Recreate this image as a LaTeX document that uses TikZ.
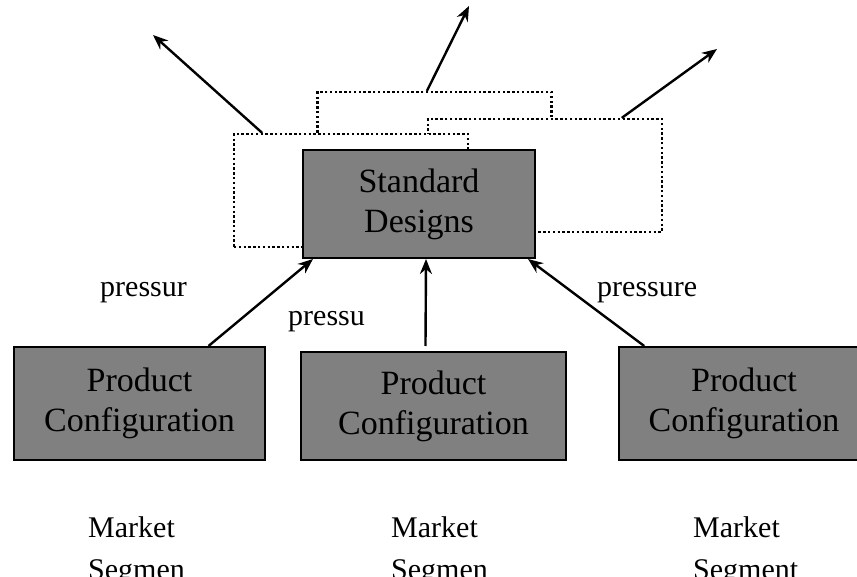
\documentclass[tikz,border=0pt]{standalone}
\usepackage{fontspec}
\setmainfont{Liberation Serif}
\usetikzlibrary{calc, arrows.meta}
\definecolor{boxgray}{RGB}{128,128,128}

\begin{document}
\begin{tikzpicture}[x=1pt, y=-1pt,
        blockbox/.style={draw, line width=2pt, fill=boxgray, align=center, inner sep=0pt,
            font=\fontsize{34}{40}\selectfont},
        ghostbox/.style={draw, fill=white, line width=2.2pt, dash pattern=on 2.4pt off 2.4pt,
            minimum width=234pt, minimum height=113pt, inner sep=0pt},
        push/.style={line width=2.4pt, -{Stealth[length=15pt, width=12pt]}},
        lbl/.style={inner sep=0pt, anchor=base west, font=\fontsize{30}{42}\selectfont}]
                \useasboundingbox (0,0) rectangle (857,577);
                \clip (0,0) rectangle (857,577);
                \node[ghostbox] (dm) at (434.5,148.5) {};
                \node[ghostbox] (dr) at (545,175.5) {};
                \node[ghostbox] (dl) at (351,190.5) {};
                \node[blockbox, minimum width=232pt, minimum height=108pt] (sd) at (419,204) {Standard\\Designs};
                \node[blockbox, minimum width=251pt, minimum height=113pt] (pc1) at (139.5,403.5) {Product\\Configuration};
                \node[blockbox, minimum width=265pt, minimum height=108pt] (pc2) at (433.5,406) {Product\\Configuration};
                \node[blockbox, minimum width=250pt, minimum height=113pt] (pc3) at (744,403.5) {Product\\Configuration};
                \coordinate (tl) at (153,35);
                \coordinate (tm) at (469,6);
                \coordinate (tr) at (717,49);
                \draw[push] ($(dl.north west)!0.124!(dl.north east)$) -- (tl);
                \draw[push] ($(dm.north west)!0.468!(dm.north east)$) -- (tm);
                \draw[push] ($(dr.north west)!0.825!(dr.north east)$) -- (tr);
                \draw[push] ($(pc1.north west)!0.773!(pc1.north east)$) -- ($(sd.south west)!0.047!(sd.south east)$);
                \draw[push] ($(pc2.north west)!0.47!(pc2.north east)+(0,-5)$) -- ($(sd.south west)!0.53!(sd.south east)$);
                \draw[push] ($(pc3.north west)!0.104!(pc3.north east)$) -- ($(sd.south west)!0.966!(sd.south east)$);
                \node[lbl] (pr1) at (100,297) {pressur};
                \node[lbl] (pr2) at (288,326) {pressu};
                \node[lbl] (pr3) at (597,297) {pressure};
                \node[lbl, align=left] (ms1) at (88,579) {Market\\Segmen};
                \node[lbl, align=left] (ms2) at (391,579) {Market\\Segmen};
                \node[lbl, align=left] (ms3) at (693,579) {Market\\Segment};
            \end{tikzpicture}
\end{document}
